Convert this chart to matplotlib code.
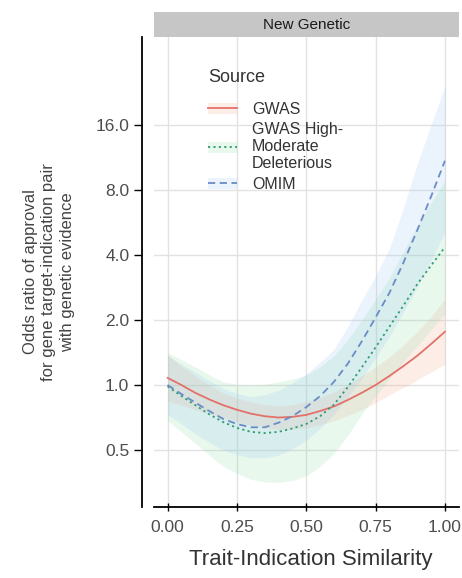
import matplotlib
matplotlib.use("Agg")
import matplotlib.pyplot as plt
from matplotlib.lines import Line2D
from matplotlib.patches import Patch, Rectangle

plt.rcParams['font.family'] = ['Liberation Sans', 'DejaVu Sans']

# trait-indication similarity grid
similarity = [0.00, 0.05, 0.10, 0.15, 0.20, 0.25, 0.30, 0.35, 0.40, 0.45, 0.50,
              0.55, 0.60, 0.65, 0.70, 0.75, 0.80, 0.85, 0.90, 0.95, 1.00]

# fitted odds ratios and confidence bands
gwas = [1.079, 1.000, 0.920, 0.858, 0.807, 0.768, 0.737, 0.717, 0.707, 0.712, 0.727,
        0.758, 0.796, 0.853, 0.920, 1.000, 1.102, 1.223, 1.366, 1.548, 1.765]
gwas_lo = [0.841, 0.807, 0.768, 0.737, 0.707, 0.678, 0.651, 0.633, 0.624, 0.624, 0.633,
           0.655, 0.683, 0.722, 0.768, 0.829, 0.901, 0.973, 1.057, 1.149, 1.248]
gwas_hi = [1.385, 1.223, 1.102, 1.000, 0.920, 0.871, 0.835, 0.812, 0.801, 0.812, 0.835,
           0.877, 0.927, 1.007, 1.102, 1.214, 1.347, 1.526, 1.765, 2.071, 2.497]

deleterious = [0.986, 0.889, 0.807, 0.732, 0.674, 0.633, 0.607, 0.599, 0.607, 0.629, 0.660,
               0.717, 0.812, 0.979, 1.206, 1.495, 1.866, 2.329, 2.928, 3.580, 4.347]
deleterious_lo = [0.683, 0.607, 0.536, 0.473, 0.420, 0.390, 0.366, 0.356, 0.354, 0.361, 0.379,
                  0.420, 0.483, 0.586, 0.732, 0.889, 1.072, 1.274, 1.516, 1.803, 2.144]
deleterious_hi = [1.414, 1.310, 1.214, 1.117, 1.035, 1.007, 1.000, 1.007, 1.035, 1.064, 1.110,
                  1.214, 1.366, 1.625, 2.000, 2.497, 3.138, 4.141, 5.464, 6.964, 8.876]

omim = [1.000, 0.908, 0.829, 0.758, 0.697, 0.660, 0.637, 0.637, 0.669, 0.717, 0.790,
        0.889, 1.035, 1.257, 1.591, 2.056, 2.676, 3.681, 5.205, 7.464, 10.93]
omim_lo = [0.732, 0.660, 0.595, 0.543, 0.500, 0.476, 0.460, 0.460, 0.473, 0.507, 0.555,
           0.629, 0.732, 0.883, 1.072, 1.338, 1.682, 2.173, 2.828, 3.784, 5.098]
omim_hi = [1.366, 1.248, 1.149, 1.050, 0.966, 0.914, 0.883, 0.901, 0.946, 1.021, 1.125,
           1.274, 1.464, 1.866, 2.462, 3.204, 4.287, 6.589, 10.56, 16.00, 24.25]

labels = ['GWAS', 'GWAS High-\nModerate\nDeleterious', 'OMIM']
line_colors = ['#e3716a', '#2f9e72', '#6a8cc6']
fill_colors = ['#f6a58a', '#8fdca8', '#9cc4f0']
styles = ['-', (0, (1.2, 1.8)), (0, (4, 2.5))]

y_ticks = [0.5, 1, 2, 4, 8, 16]
y_ticklabels = ['0.5', '1.0', '2.0', '4.0', '8.0', '16.0']
x_ticks = [0, 0.25, 0.5, 0.75, 1.0]
x_ticklabels = ['0.00', '0.25', '0.50', '0.75', '1.00']

fig = plt.figure(figsize=(4.62, 5.78), dpi=100)
ax = fig.add_axes([0.3327, 0.1228, 0.6604, 0.8131])

series = [(gwas, gwas_lo, gwas_hi), (deleterious, deleterious_lo, deleterious_hi),
          (omim, omim_lo, omim_hi)]
for (mid, lo, hi), fc in zip(series, fill_colors):
    ax.fill_between(similarity, lo, hi, color=fc, alpha=0.2, lw=0, zorder=1)
for (mid, lo, hi), lc, ls in zip(series, line_colors, styles):
    ax.plot(similarity, mid, color=lc, ls=ls, lw=1.3, zorder=3)

ax.set_yscale('log', base=2)
ax.set_ylim(0.2722, 40.9)
ax.set_xlim(-0.05, 1.05)
ax.set_yticks(y_ticks)
ax.set_yticklabels(y_ticklabels)
ax.minorticks_off()
ax.set_xticks(x_ticks)
ax.set_xticklabels(x_ticklabels)

ax.grid(color='#e2e2e2', lw=1.0, zorder=0)
ax.set_axisbelow(True)
for s in ['top', 'right']:
    ax.spines[s].set_visible(False)
ax.spines['left'].set_position(('outward', 8.6))
ax.spines['left'].set_linewidth(1.3)
ax.spines['bottom'].set_linewidth(1.3)
ax.tick_params(axis='y', length=6, width=1.0, pad=3, labelsize=12.5, labelcolor='#4d4d4d')
ax.tick_params(axis='x', direction='inout', length=6, width=1.0, pad=6, labelsize=12.5,
               labelcolor='#4d4d4d')

# facet strip
ax.add_patch(Rectangle((0, 1.0), 1.0, 25 / 470, transform=ax.transAxes,
                       facecolor='#c6c6c6', edgecolor='none', clip_on=False))
ax.text(0.5, 1.0 + 12.5 / 470, 'New Genetic', transform=ax.transAxes,
        ha='center', va='center', fontsize=11, color='#1a1a1a')

# legend, title drawn separately so it can sit a bit higher
handles = []
for lc, fc, ls in zip(line_colors, fill_colors, styles):
    handles.append((Patch(facecolor=fc, alpha=0.2, lw=0),
                    Line2D([], [], color=lc, ls=ls, lw=1.3)))
leg = ax.legend(handles, labels, loc='upper left',
                bbox_to_anchor=(0.178, 0.862), frameon=False, fontsize=11.5,
                handlelength=1.8, handletextpad=0.95, labelspacing=0.35,
                borderpad=0, borderaxespad=0)
for t in leg.get_texts():
    t.set_color('#333333')
    t.set_linespacing(1.15)
ax.text(0.178, 0.913, 'Source', transform=ax.transAxes, ha='left', va='center',
        fontsize=13, color='#333333')

fig.text(49 / 462, 1 - 272 / 578,
         'Odds ratio of approval\nfor gene target-indication pair\nwith genetic evidence',
         rotation=90, ha='center', va='center', multialignment='center',
         fontsize=12, color='#444444', linespacing=1.3)
fig.text(311 / 462, 1 - 560 / 578, 'Trait-Indication Similarity',
         ha='center', va='center', fontsize=16, color='#333333')

fig.savefig('out.png', dpi=100)
